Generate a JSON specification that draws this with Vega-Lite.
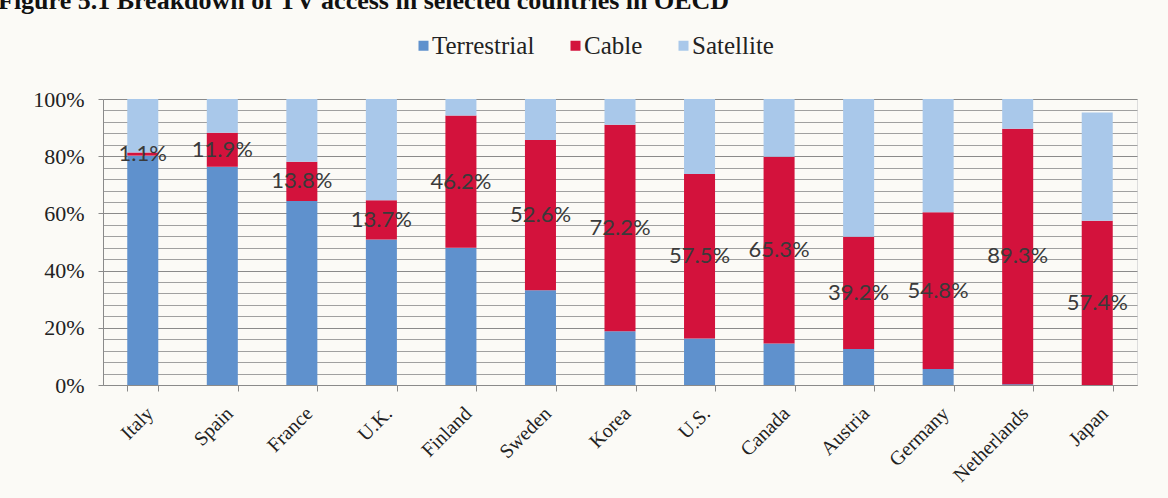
{
  "$schema": "https://vega.github.io/schema/vega-lite/v6.json",
  "width": 1034,
  "height": 286,
  "autosize": {"type": "none"},
  "padding": {"left": 103, "top": 99, "right": 31, "bottom": 113},
  "background": "#fbfaf6",
  "title": {
    "text": "Figure 5.1 Breakdown of TV access in selected countries in OECD",
    "anchor": "start",
    "frame": "group",
    "font": "Liberation Serif",
    "fontSize": 26,
    "fontWeight": "bold",
    "color": "#111111",
    "baseline": "alphabetic",
    "dx": -105,
    "offset": -2
  },
  "data": {
    "values": [
      {"country": "Italy", "Terrestrial": 0.802, "Cable": 0.011, "Satellite": 0.187},
      {"country": "Spain", "Terrestrial": 0.763, "Cable": 0.119, "Satellite": 0.118},
      {"country": "France", "Terrestrial": 0.643, "Cable": 0.138, "Satellite": 0.219},
      {"country": "U.K.", "Terrestrial": 0.509, "Cable": 0.137, "Satellite": 0.354},
      {"country": "Finland", "Terrestrial": 0.48, "Cable": 0.462, "Satellite": 0.058},
      {"country": "Sweden", "Terrestrial": 0.331, "Cable": 0.526, "Satellite": 0.143},
      {"country": "Korea", "Terrestrial": 0.188, "Cable": 0.722, "Satellite": 0.09},
      {"country": "U.S.", "Terrestrial": 0.163, "Cable": 0.575, "Satellite": 0.262},
      {"country": "Canada", "Terrestrial": 0.145, "Cable": 0.653, "Satellite": 0.202},
      {"country": "Austria", "Terrestrial": 0.126, "Cable": 0.392, "Satellite": 0.482},
      {"country": "Germany", "Terrestrial": 0.056, "Cable": 0.548, "Satellite": 0.396},
      {"country": "Netherlands", "Terrestrial": 0.003, "Cable": 0.893, "Satellite": 0.104},
      {"country": "Japan", "Terrestrial": 0.0, "Cable": 0.574, "Satellite": 0.379}
    ]
  },
  "transform": [
    {"fold": ["Terrestrial", "Cable", "Satellite"], "as": ["access", "share"]},
    {"calculate": "indexof(['Terrestrial', 'Cable', 'Satellite'], datum.access)", "as": "stackOrder"}
  ],
  "layer": [
    {
      "mark": {"type": "bar"},
      "encoding": {
        "x": {
          "field": "country",
          "type": "nominal",
          "sort": null,
          "scale": {"paddingInner": 0.61, "paddingOuter": 0.305},
          "axis": {
            "title": null,
            "labelAngle": -45,
            "labelAlign": "right",
            "labelBaseline": "top",
            "labelFont": "Liberation Serif",
            "labelFontSize": 20,
            "labelColor": "#222222",
            "labelPadding": 12,
            "tickBand": "extent",
            "tickSize": 6,
            "tickColor": "#8a8a8a",
            "domainColor": "#8a8a8a",
            "grid": false
          }
        },
        "y": {
          "field": "share",
          "type": "quantitative",
          "stack": "zero",
          "scale": {"domain": [0, 1], "nice": false},
          "axis": {
            "title": null,
            "values": [0, 0.2, 0.4, 0.6, 0.8, 1],
            "format": ".0%",
            "labelFont": "Liberation Serif",
            "labelFontSize": 22,
            "labelColor": "#222222",
            "labelPadding": 14,
            "tickSize": 5,
            "tickColor": "#8a8a8a",
            "domainColor": "#8a8a8a",
            "grid": true,
            "gridColor": "#8a8a8a",
            "gridWidth": 1.2
          }
        },
        "color": {
          "field": "access",
          "type": "nominal",
          "scale": {
            "domain": ["Terrestrial", "Cable", "Satellite"],
            "range": ["#5f91cd", "#d3123c", "#a9c8ea"]
          },
          "legend": {
            "title": null,
            "orient": "none",
            "legendX": 308,
            "legendY": -66,
            "direction": "horizontal",
            "symbolType": "square",
            "symbolSize": 100,
            "symbolStrokeWidth": 0,
            "labelFont": "Liberation Serif",
            "labelFontSize": 25,
            "labelColor": "#222222",
            "labelOffset": -4,
            "columnPadding": 28,
            "padding": 0
          }
        },
        "order": {"field": "stackOrder", "type": "quantitative"}
      }
    },
    {
      "transform": [
        {"filter": "datum.access === 'Cable'"},
        {"calculate": "datum.Terrestrial + datum.Cable / 2", "as": "mid"}
      ],
      "mark": {"type": "text", "font": "Lato", "fontSize": 22, "color": "#3a3a3a", "baseline": "middle"},
      "encoding": {
        "x": {"field": "country", "type": "nominal", "sort": null},
        "y": {
          "field": "mid",
          "type": "quantitative",
          "axis": {
            "orient": "right",
            "values": [0.04, 0.08, 0.12, 0.16, 0.24, 0.28, 0.32, 0.36, 0.44, 0.48, 0.52, 0.56, 0.64, 0.68, 0.72, 0.76, 0.84, 0.88, 0.92, 0.96],
            "labels": false,
            "ticks": false,
            "domain": false,
            "title": null,
            "grid": true,
            "gridColor": "#a0a0a0",
            "gridWidth": 1
          }
        },
        "text": {"field": "share", "type": "quantitative", "format": ".1%"}
      }
    }
  ],
  "resolve": {"axis": {"y": "independent"}}
}
